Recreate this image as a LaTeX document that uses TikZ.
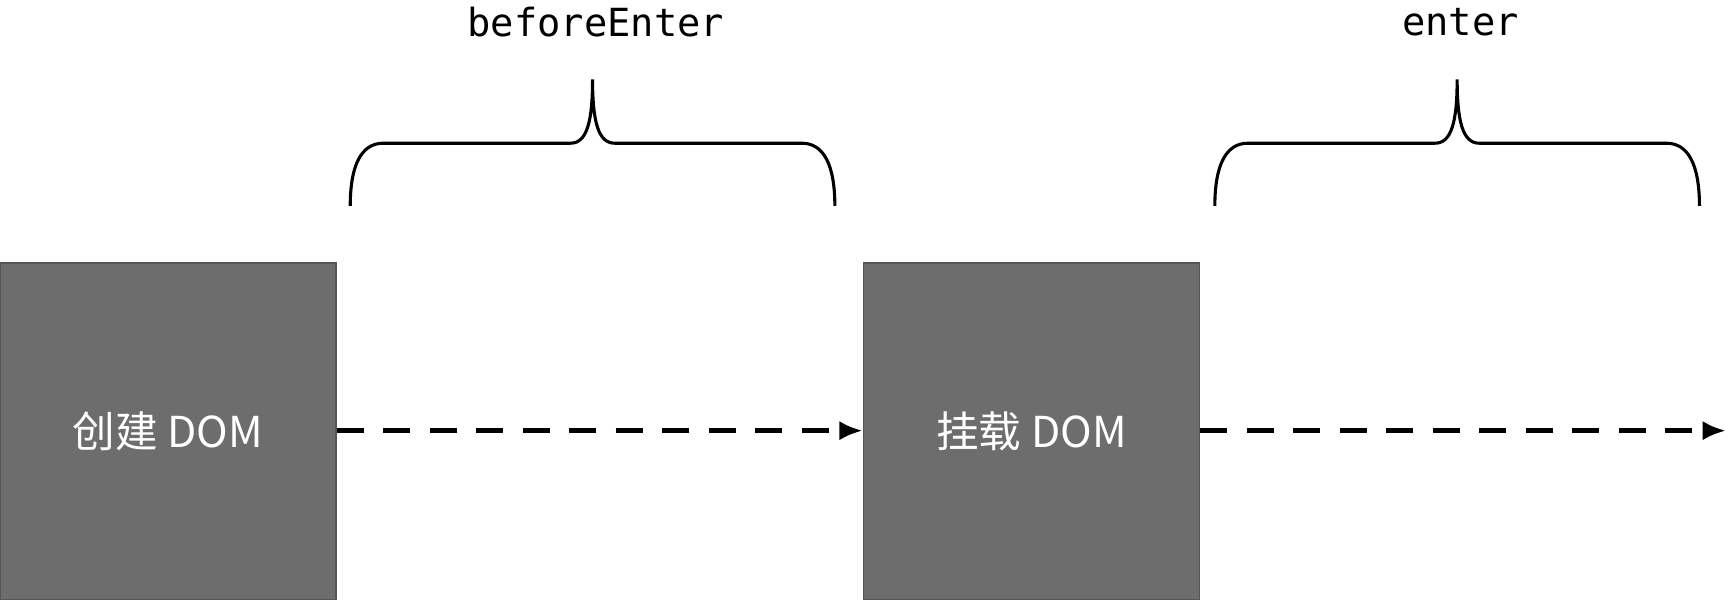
\documentclass[tikz,border=0pt]{standalone}
\usepackage{fontspec}
\setmainfont{Liberation Sans}
\newfontfamily\cjk{Noto Sans CJK SC}
\newfontfamily\monofont{DejaVu Sans Mono}
\usetikzlibrary{arrows.meta}
\definecolor{boxgray}{HTML}{6D6D6D}
\definecolor{boxline}{HTML}{555555}
\tikzset{
	stagebox/.style={draw=boxline, fill=boxgray, minimum size=3.05cm, inner sep=0pt, text=white, font=\cjk\fontsize{11}{13}\selectfont},
	flow/.style={line width=1.2pt, dash pattern=on 7pt off 5pt, -{Latex[length=6pt,width=5pt]}},
	hooklabel/.style={font=\monofont\fontsize{10}{12}\selectfont}
}
\begin{document}
\begin{tikzpicture}[x=0.01cm, y=-0.01cm]
	\useasboundingbox (0,0) rectangle (1568,544);
	
	\node[stagebox] (create) at (152.5,391.5) {创建 DOM};
	\node[stagebox] (mount) at (936.5,391.5) {挂载 DOM};
	\coordinate (end) at (1567,391);
	
	\draw[flow] (create.east |- 0,391) -- (mount.west |- 0,391);
	\draw[flow] (mount.east |- 0,391) -- (end);
	
	% braces
	\foreach \l/\m/\r/\name/\txt in {318/538/758/before/beforeEnter, 1103/1323/1543/enter/enter}{
		\draw[line width=0.8pt] (\l,187) .. controls (\l,150) and (\l+10,130) .. (\l+30,130)
			-- (\m-20,130) .. controls (\m-5,130) and (\m,110) .. (\m,72)
			.. controls (\m,110) and (\m+5,130) .. (\m+20,130)
			-- (\r-30,130) .. controls (\r-10,130) and (\r,150) .. (\r,187);
		\node[hooklabel] (\name) at (\m+3,20) {\txt};
	}
\end{tikzpicture}
\end{document}
